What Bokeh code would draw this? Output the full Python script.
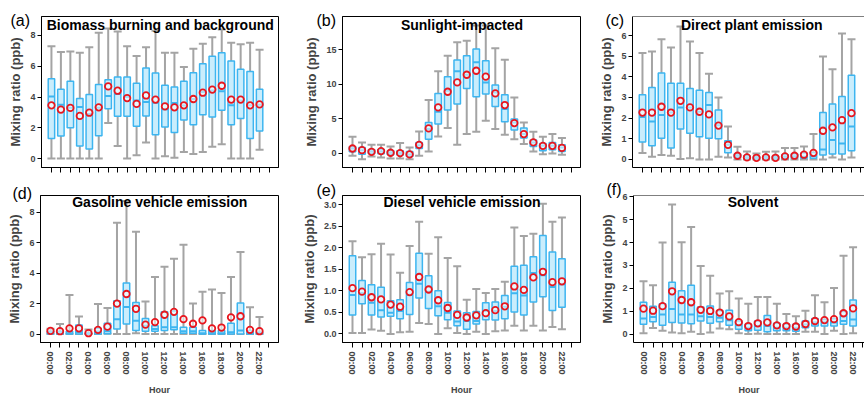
import math

from bokeh.embed import file_html
from bokeh.layouts import column, row
from bokeh.models import ColumnDataSource, FixedTicker, Label, Range1d, Span
from bokeh.plotting import figure
from bokeh.resources import INLINE
from bokeh.transform import dodge

FONT = "Liberation Sans"

# hour-of-day categories (boxes exist for 00:00 - 22:00, axis runs to 23:00)
HOUR_LABELS = ["00:00", "01:00", "02:00", "03:00", "04:00", "05:00",
               "06:00", "07:00", "08:00", "09:00", "10:00", "11:00",
               "12:00", "13:00", "14:00", "15:00", "16:00", "17:00",
               "18:00", "19:00", "20:00", "21:00", "22:00", "23:00"]
Y_LABEL = "Mixing ratio (ppb)"
X_LABEL = "Hour"

# (a) Biomass burning and background
A_LO = [0, 0, 0, 0, 0, 0, 2.31, 0.82, 0, 0.22, 1.04, 0, 0.15, 0.06, 0.43, 0.30, 0.43, 0.76, 0.93, 0, 0, 0, 0.58]
A_Q1 = [1.30, 1.47, 2.00, 0.82, 0.63, 1.49, 3.24, 2.75, 2.75, 2.10, 2.77, 1.54, 2.05, 1.69, 2.50, 2.20, 2.85, 2.70, 3.14, 2.20, 2.60, 1.30, 1.79]
A_MED = [4.04, 3.50, 3.30, 3.35, 2.90, 3.30, 4.06, 4.20, 4.00, 3.78, 3.68, 3.63, 3.20, 3.61, 3.44, 3.87, 4.32, 4.43, 4.37, 3.46, 3.78, 3.46, 3.50]
A_Q3 = [5.19, 4.50, 5.02, 3.90, 4.17, 4.82, 5.12, 5.30, 5.30, 4.90, 5.88, 5.56, 4.76, 4.65, 5.02, 5.58, 6.16, 6.64, 6.88, 6.34, 5.80, 5.66, 4.50]
A_HI = [7.30, 6.92, 6.96, 6.88, 7.24, 8.17, 8.45, 8.26, 7.30, 6.66, 7.24, 8.30, 6.88, 6.88, 5.95, 7.13, 7.46, 7.89, 8.39, 7.52, 7.42, 7.52, 7.07]
A_MEAN = [3.46, 3.18, 3.29, 2.77, 2.98, 3.33, 4.69, 4.41, 3.93, 3.55, 4.10, 3.83, 3.39, 3.33, 3.46, 3.87, 4.28, 4.48, 4.73, 3.83, 3.83, 3.46, 3.52]

# (b) Sunlight-impacted
B_LO = [-0.34, -0.82, -0.43, -0.58, -0.72, -0.72, -0.82, -0.34, 0.29, 2.46, 3.67, 1.25, 2.80, 3.14, 4.73, 3.52, 2.70, 2.07, 1.35, 0.29, -0.10, 0.00, -0.20]
B_Q1 = [0.24, -0.10, 0.00, -0.05, -0.20, -0.24, -0.43, 0.72, 2.07, 4.25, 6.27, 7.14, 9.40, 8.20, 8.59, 6.80, 4.58, 3.38, 2.22, 1.00, 0.39, 0.53, 0.29]
B_MED = [0.70, 0.48, 0.30, 0.30, 0.10, 0.05, -0.14, 1.20, 3.52, 6.03, 9.07, 11.87, 11.38, 13.17, 10.27, 8.83, 6.42, 4.49, 2.80, 1.60, 1.10, 1.10, 0.87]
B_Q3 = [0.96, 0.87, 0.53, 0.58, 0.39, 0.39, 0.29, 1.60, 4.49, 8.68, 11.10, 13.50, 14.13, 15.10, 13.40, 9.89, 8.49, 4.97, 3.67, 1.93, 1.45, 1.60, 1.25]
B_HI = [2.41, 1.60, 1.25, 1.25, 1.00, 1.50, 0.87, 3.18, 7.72, 11.87, 14.13, 16.06, 16.30, 18.50, 18.50, 15.20, 13.56, 8.10, 4.49, 3.14, 2.41, 2.80, 2.22]
B_MEAN = [0.72, 0.48, 0.24, 0.34, 0.10, 0.05, -0.14, 1.25, 3.62, 6.66, 8.92, 10.27, 11.38, 11.96, 11.10, 8.68, 7.00, 4.39, 2.80, 1.60, 1.10, 1.10, 0.80]

# (c) Direct plant emission
C_LO = [0.31, 0.13, 0.21, 0.18, 0.02, 0.06, 0, 0, 0.13, 0.10, 0, 0, 0, 0, 0, 0, 0, 0, 0, 0, 0.10, 0, 0.10]
C_Q1 = [0.85, 0.66, 1.02, 0.55, 1.47, 1.27, 1.10, 1.03, 1.00, 0.32, 0.10, 0.03, 0.02, 0.03, 0.02, 0.05, 0.06, 0.06, 0.06, 0.21, 0.26, 0.26, 0.42]
C_MED = [2.06, 1.84, 2.15, 2.27, 2.52, 2.52, 2.31, 2.63, 1.66, 0.71, 0.18, 0.10, 0.07, 0.09, 0.07, 0.13, 0.16, 0.13, 0.17, 0.48, 0.94, 0.77, 1.60]
C_Q3 = [3.13, 3.48, 4.18, 3.69, 3.69, 3.44, 3.35, 3.24, 2.39, 0.90, 0.26, 0.18, 0.13, 0.16, 0.15, 0.23, 0.26, 0.31, 0.34, 2.27, 2.68, 3.05, 4.08]
C_HI = [5.15, 5.23, 5.82, 5.42, 6.44, 5.71, 5.15, 4.15, 3.00, 1.60, 0.61, 0.39, 0.29, 0.37, 0.39, 0.56, 0.56, 0.63, 1.23, 4.98, 4.37, 6.10, 5.82]
C_MEAN = [2.27, 2.27, 2.55, 2.27, 2.84, 2.52, 2.31, 2.18, 1.64, 0.71, 0.18, 0.10, 0.08, 0.10, 0.08, 0.15, 0.18, 0.23, 0.32, 1.39, 1.55, 1.90, 2.24]

# (d) Gasoline vehicle emission
D_LO = [0, 0, 0, 0, 0, 0, 0.02, 0, 0, 0.06, 0, 0, 0, 0, 0, 0, 0, 0, 0, 0, 0, 0, 0]
D_Q1 = [0, 0, 0, 0, 0, 0, 0.02, 0.34, 0.66, 0.23, 0.19, 0.19, 0.23, 0.28, 0.06, 0.06, 0, 0, 0, 0, 0, 0, 0]
D_MED = [0.10, 0.05, 0.06, 0.13, 0.02, 0.17, 0.19, 0.98, 1.78, 0.87, 0.55, 0.34, 0.45, 0.45, 0.19, 0.19, 0.05, 0.05, 0.05, 0.13, 0.23, 0.05, 0.03]
D_Q3 = [0.19, 0.19, 0.19, 0.60, 0.08, 0.38, 0.72, 2.19, 3.35, 2.08, 1.02, 0.55, 1.47, 1.51, 0.45, 0.45, 0.23, 0.23, 0.23, 0.72, 2.04, 0.23, 0.13]
D_HI = [0.35, 0.66, 2.57, 1.15, 0.30, 1.97, 1.72, 7.30, 8.73, 6.71, 2.14, 3.74, 4.42, 4.95, 5.86, 2.00, 2.78, 2.93, 2.70, 3.74, 5.39, 1.76, 1.13]
D_MEAN = [0.21, 0.19, 0.38, 0.38, 0.06, 0.28, 0.49, 2.00, 2.63, 1.66, 0.62, 0.79, 1.27, 1.46, 0.98, 0.68, 0.90, 0.38, 0.43, 1.10, 1.17, 0.28, 0.19]

# (e) Diesel vehicle emission
E_LO = [0.02, 0.02, 0.10, 0.07, 0.00, 0.04, 0.05, 0.25, 0.23, 0.00, 0.13, 0.02, 0.00, 0.05, 0.00, 0.06, 0.08, 0.19, 0.08, 0.19, 0.08, 0.16, 0.11]
E_Q1 = [0.44, 0.70, 0.44, 0.39, 0.41, 0.35, 0.45, 0.83, 0.59, 0.42, 0.33, 0.19, 0.11, 0.23, 0.33, 0.32, 0.35, 0.51, 0.44, 0.74, 0.86, 0.54, 0.62]
E_MED = [0.90, 0.95, 0.72, 0.55, 0.49, 0.53, 0.91, 1.16, 0.98, 0.64, 0.49, 0.29, 0.30, 0.30, 0.53, 0.53, 0.63, 0.94, 0.89, 1.41, 1.36, 1.09, 1.15]
E_Q3 = [1.81, 1.24, 1.14, 1.08, 0.77, 0.79, 1.19, 1.87, 1.35, 1.00, 0.73, 0.53, 0.49, 0.52, 0.72, 0.74, 0.89, 1.57, 1.59, 1.79, 2.28, 1.90, 1.74]
E_HI = [2.15, 1.78, 1.85, 2.09, 1.84, 1.42, 2.04, 2.60, 1.86, 2.24, 1.76, 1.57, 0.79, 1.04, 0.95, 1.04, 1.21, 2.47, 2.27, 2.32, 3.02, 2.60, 2.70]
E_MEAN = [1.06, 0.98, 0.85, 0.80, 0.68, 0.63, 0.97, 1.32, 1.03, 0.78, 0.60, 0.44, 0.38, 0.43, 0.48, 0.55, 0.64, 1.10, 1.02, 1.31, 1.44, 1.20, 1.22]

# (f) Solvent
F_LO = [0.03, 0.26, 0.14, 0.07, 0.03, 0.10, 0.00, 0.07, 0.24, 0.21, 0.04, 0.00, 0.01, 0.00, 0.00, 0.00, 0.00, 0.10, 0.10, 0.00, 0.14, 0.00, 0.04]
F_Q1 = [0.43, 0.54, 0.38, 0.50, 0.48, 0.45, 0.57, 0.47, 0.54, 0.38, 0.21, 0.14, 0.17, 0.10, 0.14, 0.14, 0.12, 0.28, 0.35, 0.35, 0.35, 0.43, 0.35]
F_MED = [0.68, 0.74, 0.85, 1.09, 0.85, 0.85, 0.78, 0.74, 0.71, 0.60, 0.38, 0.28, 0.35, 0.35, 0.28, 0.28, 0.28, 0.42, 0.52, 0.52, 0.50, 0.57, 0.64]
F_Q3 = [1.39, 1.22, 1.32, 2.27, 1.89, 2.13, 1.18, 1.23, 1.02, 1.04, 0.57, 0.43, 0.57, 0.81, 0.47, 0.43, 0.43, 0.57, 0.68, 0.64, 0.67, 0.99, 1.49]
F_HI = [2.31, 2.13, 4.00, 5.67, 4.01, 4.68, 2.98, 2.55, 1.77, 1.87, 1.56, 1.32, 1.62, 1.62, 1.32, 0.88, 0.78, 1.02, 1.70, 1.39, 2.01, 3.43, 3.80]
F_MEAN = [1.11, 1.02, 1.22, 1.87, 1.49, 1.39, 1.06, 1.01, 0.94, 0.77, 0.52, 0.35, 0.47, 0.51, 0.38, 0.35, 0.33, 0.44, 0.57, 0.61, 0.65, 0.91, 1.12]

# colours
WHISKER = "#a4a4a4"
BOX_FILL = "#caedfc"
BOX_LINE = "#3db5f0"
MEAN_RED = "#e8161e"

TOP_H, BOT_H = 180, 217


def panel(letter, title, stats, y_range, y_ticks, bottom, width, left, right,
          x_end, letter_dx, letter_standoff, open_right=False, y_fmt=None):
    lo, q1, med, q3, hi, mean = stats
    height = BOT_H if bottom else TOP_H
    top_b, bot_b = (15, 51) if bottom else (16, 13)
    p = figure(width=width, height=height, output_backend="svg",
               toolbar_location=None,
               x_range=Range1d(-1.05, x_end), y_range=Range1d(*y_range),
               min_border_left=left, min_border_right=right,
               min_border_top=top_b, min_border_bottom=bot_b,
               background_fill_color="white", border_fill_color="white")
    p.xgrid.visible = False
    p.ygrid.visible = False
    if open_right:
        # panel runs off the right edge: only left/bottom axis lines + top rule
        p.outline_line_color = None
        p.add_layout(Span(location=y_range[1], dimension="width",
                          line_color="black", line_width=1))
    else:
        p.outline_line_color = "black"
        p.outline_line_width = 1

    # panel letter, set in the title slot and pulled down onto the frame corner
    p.title.text = letter
    p.title.align = "left"
    p.title.offset = letter_dx
    p.title.standoff = letter_standoff
    p.title.text_font = FONT
    p.title.text_font_style = "normal"
    p.title.text_font_size = "16px"
    p.title.text_color = "black"

    src = ColumnDataSource(dict(x=list(range(len(mean))), lo=lo, q1=q1,
                                med=med, q3=q3, hi=hi, mean=mean))

    # whiskers with end caps
    p.segment(x0="x", y0="lo", x1="x", y1="hi", source=src,
              line_color=WHISKER, line_width=2)
    p.scatter("x", "hi", source=src, marker="dash", size=8,
              line_color=WHISKER, line_width=2)
    p.scatter("x", "lo", source=src, marker="dash", size=8,
              line_color=WHISKER, line_width=2)
    # interquartile boxes and medians
    p.vbar(x="x", width=0.68, bottom="q1", top="q3", source=src,
           fill_color=BOX_FILL, line_color=BOX_LINE, line_width=1.5)
    p.segment(x0=dodge("x", -0.34), x1=dodge("x", 0.34), y0="med", y1="med",
              source=src, line_color=BOX_LINE, line_width=2)
    # hourly means
    p.scatter("x", "mean", source=src, marker="circle", size=6.5,
              line_color=MEAN_RED, line_width=1.8,
              fill_color="white", fill_alpha=0.55)

    # y axis
    ya = p.yaxis[0]
    ya.ticker = FixedTicker(ticks=y_ticks, minor_ticks=[])
    if y_fmt:
        ya.major_label_overrides = {t: y_fmt.format(t) for t in y_ticks}
    ya.axis_line_color = "black"
    ya.axis_label = Y_LABEL
    ya.axis_label_text_font = FONT
    ya.axis_label_text_font_style = "bold"
    ya.axis_label_text_font_size = "13px"
    ya.axis_label_standoff = 4
    ya.major_label_text_font = FONT
    ya.major_label_text_font_style = "bold"
    ya.major_label_text_font_size = "9px"
    ya.major_label_standoff = 2
    ya.major_tick_out = 4
    ya.major_tick_in = 0
    ya.minor_tick_out = 0
    ya.minor_tick_in = 0

    # x axis: a tick every hour, a label every second hour
    xa = p.xaxis[0]
    hours = list(range(len(HOUR_LABELS)))
    labelled = [h for h in hours if h % 2 == 0]
    unlabelled = [h for h in hours if h % 2 == 1]
    xa.axis_line_color = "black"
    xa.major_tick_in = 0
    xa.minor_tick_in = 0
    xa.major_tick_out = 5
    xa.minor_tick_out = 5
    xa.major_tick_line_color = "black"
    xa.minor_tick_line_color = "black"
    if bottom:
        xa.ticker = FixedTicker(ticks=labelled, minor_ticks=unlabelled)
        xa.major_label_overrides = {h: HOUR_LABELS[h] for h in labelled}
        xa.major_label_orientation = -math.pi / 2
        xa.major_label_text_font = FONT
        xa.major_label_text_font_style = "bold"
        xa.major_label_text_font_size = "9px"
        xa.major_label_standoff = 4
        xa.axis_label = X_LABEL
        xa.axis_label_text_font = FONT
        xa.axis_label_text_font_style = "bold"
        xa.axis_label_text_font_size = "9px"
        xa.axis_label_standoff = 7
    else:
        xa.ticker = FixedTicker(ticks=[], minor_ticks=hours)

    frame_h = height - top_b - bot_b
    p.add_layout(Label(x=11.5, y=frame_h - (2 if bottom else 0),
                       x_units="data", y_units="screen", text=title,
                       text_align="center", text_baseline="top",
                       text_font=FONT, text_font_style="bold",
                       text_font_size="14px", text_color="black"))
    return p


pa = panel("(a)", "Biomass burning and background",
           (A_LO, A_Q1, A_MED, A_Q3, A_HI, A_MEAN), (-0.58, 9.23),
           [0, 2, 4, 6, 8], False, 287, 41, 9, 24.0, -31, -24)
pb = panel("(b)", "Sunlight-impacted",
           (B_LO, B_Q1, B_MED, B_Q3, B_HI, B_MEAN), (-2.03, 19.8),
           [0, 5, 10, 15], False, 298, 55, 5, 23.95, -26, -24)
pc = panel("(c)", "Direct plant emission",
           (C_LO, C_Q1, C_MED, C_Q3, C_HI, C_MEAN), (-0.39, 6.92),
           [0, 1, 2, 3, 4, 5, 6], False, 279, 47, 0, 23.37, -27, -24,
           open_right=True)
pd = panel("(d)", "Gasoline vehicle emission",
           (D_LO, D_Q1, D_MED, D_Q3, D_HI, D_MEAN), (-0.55, 9.09),
           [0, 2, 4, 6, 8], True, 287, 40, 9, 24.0, -28, -12)
pe = panel("(e)", "Diesel vehicle emission",
           (E_LO, E_Q1, E_MED, E_Q3, E_HI, E_MEAN), (-0.2, 3.21),
           [0, 0.5, 1.0, 1.5, 2.0, 2.5, 3.0], True, 298, 55, 5, 23.95, -26, -6,
           y_fmt="{:.1f}")
pf = panel("(f)", "Solvent",
           (F_LO, F_Q1, F_MED, F_Q3, F_HI, F_MEAN), (-0.37, 6.06),
           [0, 1, 2, 3, 4, 5, 6], True, 279, 48, 0, 23.2, -27, -5,
           open_right=True)

layout = column(row(pa, pb, pc), row(pd, pe, pf))

open("out.html", "w").write(file_html(layout, INLINE))
